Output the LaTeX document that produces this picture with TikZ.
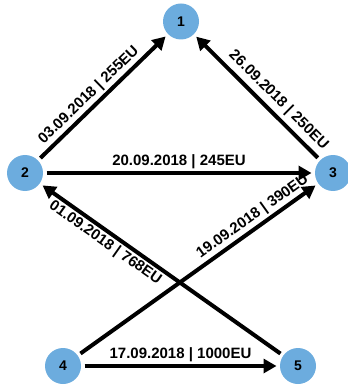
\documentclass[tikz,border=0pt]{standalone}
\usepackage{fontspec}
\setmainfont{Liberation Sans}
\usetikzlibrary{arrows.meta}
\definecolor{nodeblue}{RGB}{108,172,222}
\tikzset{
  vertex/.style={circle, fill=nodeblue, minimum size=36pt, inner sep=0pt,
    outer sep=3.5pt, font=\fontsize{14}{14}\selectfont\bfseries},
  edge/.style={line width=4pt, -{Triangle[length=13pt,width=14pt]}},
  lbl/.style={sloped, font=\fontsize{15}{15}\selectfont\bfseries, inner sep=2pt}
}
\begin{document}
\begin{tikzpicture}[x=1pt,y=-1pt]
\useasboundingbox (0,0) rectangle (347,387);
\node[vertex] (n1) at (181,21.5) {1};
\node[vertex] (n2) at (25,173) {2};
\node[vertex] (n3) at (333,173) {3};
\node[vertex] (n4) at (63,366) {4};
\node[vertex] (n5) at (298,366) {5};
\draw[edge] (n2) -- node[lbl, above, pos=0.45] {03.09.2018 | 255EU} (n1);
\draw[edge] (n3) -- node[lbl, above, pos=0.4, inner sep=4pt] {26.09.2018 | 250EU} (n1);
\draw[edge] (n2) -- node[lbl, above] {20.09.2018 | 245EU} (n3);
\draw[edge] (n5) -- node[lbl, below, pos=0.71] {01.09.2018 | 768EU} (n2);
\draw[edge] (n4) -- node[lbl, above, pos=0.76] {19.09.2018 | 390EU} (n3);
\draw[edge] (n4) -- node[lbl, above] {17.09.2018 | 1000EU} (n5);
\end{tikzpicture}
\end{document}
